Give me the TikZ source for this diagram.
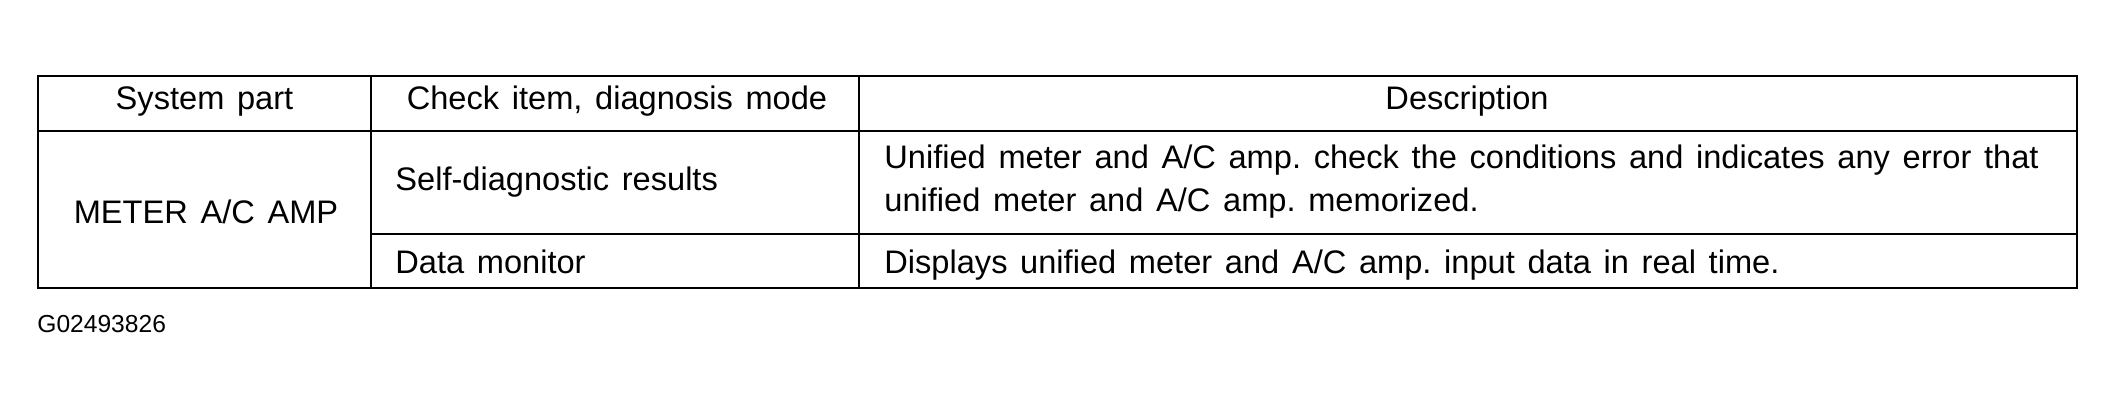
\documentclass[tikz,border=0pt]{standalone}
\usepackage{fontspec}
\setmainfont{Liberation Sans}[WordSpace=1.4]

\begin{document}
\frenchspacing
\begin{tikzpicture}[x=0.5pt, y=-0.5pt,
    txt/.style={inner sep=0pt, font=\fontsize{16.3}{19}\selectfont},
    mid/.style={txt, anchor=base},
    left/.style={txt, anchor=base west},
    grid/.style={line width=0.7pt},
    frame/.style={line width=1.4pt}]
    \useasboundingbox (0,0) rectangle (2116,408);
    % table lines
    \draw[grid] (371,76) -- (371,288);
    \draw[grid] (859,76) -- (859,288);
    \draw[grid] (38,131) -- (2077,131);
    \draw[grid] (371,234) -- (2077,234);
    \draw[frame] (38,76) rectangle (2077,288);
    % header
    \node[mid] (syspart) at (204.5,109) {System part};
    \node[mid] (check) at (617,109) {Check item, diagnosis mode};
    \node[mid] (desc) at (1467,109) {Description};
    % rows
    \node[mid] (meter) at (206,223) {METER A/C AMP};
    \node[left] (self) at (395,190) {Self-diagnostic results};
    \node[left] (data) at (395,273) {Data monitor};
    \node[left] (selfdescA) at (884,168) {Unified meter and A/C amp. check the conditions and indicates any error that};
    \node[left] (selfdescB) at (884,211) {unified meter and A/C amp. memorized.};
    \node[left] (datadesc) at (884,273) {Displays unified meter and A/C amp. input data in real time.};
    % figure code
    \node[anchor=base west, inner sep=0pt, font=\fontsize{12.3}{14}\selectfont] (code) at (37,332) {G02493826};
\end{tikzpicture}
\end{document}
